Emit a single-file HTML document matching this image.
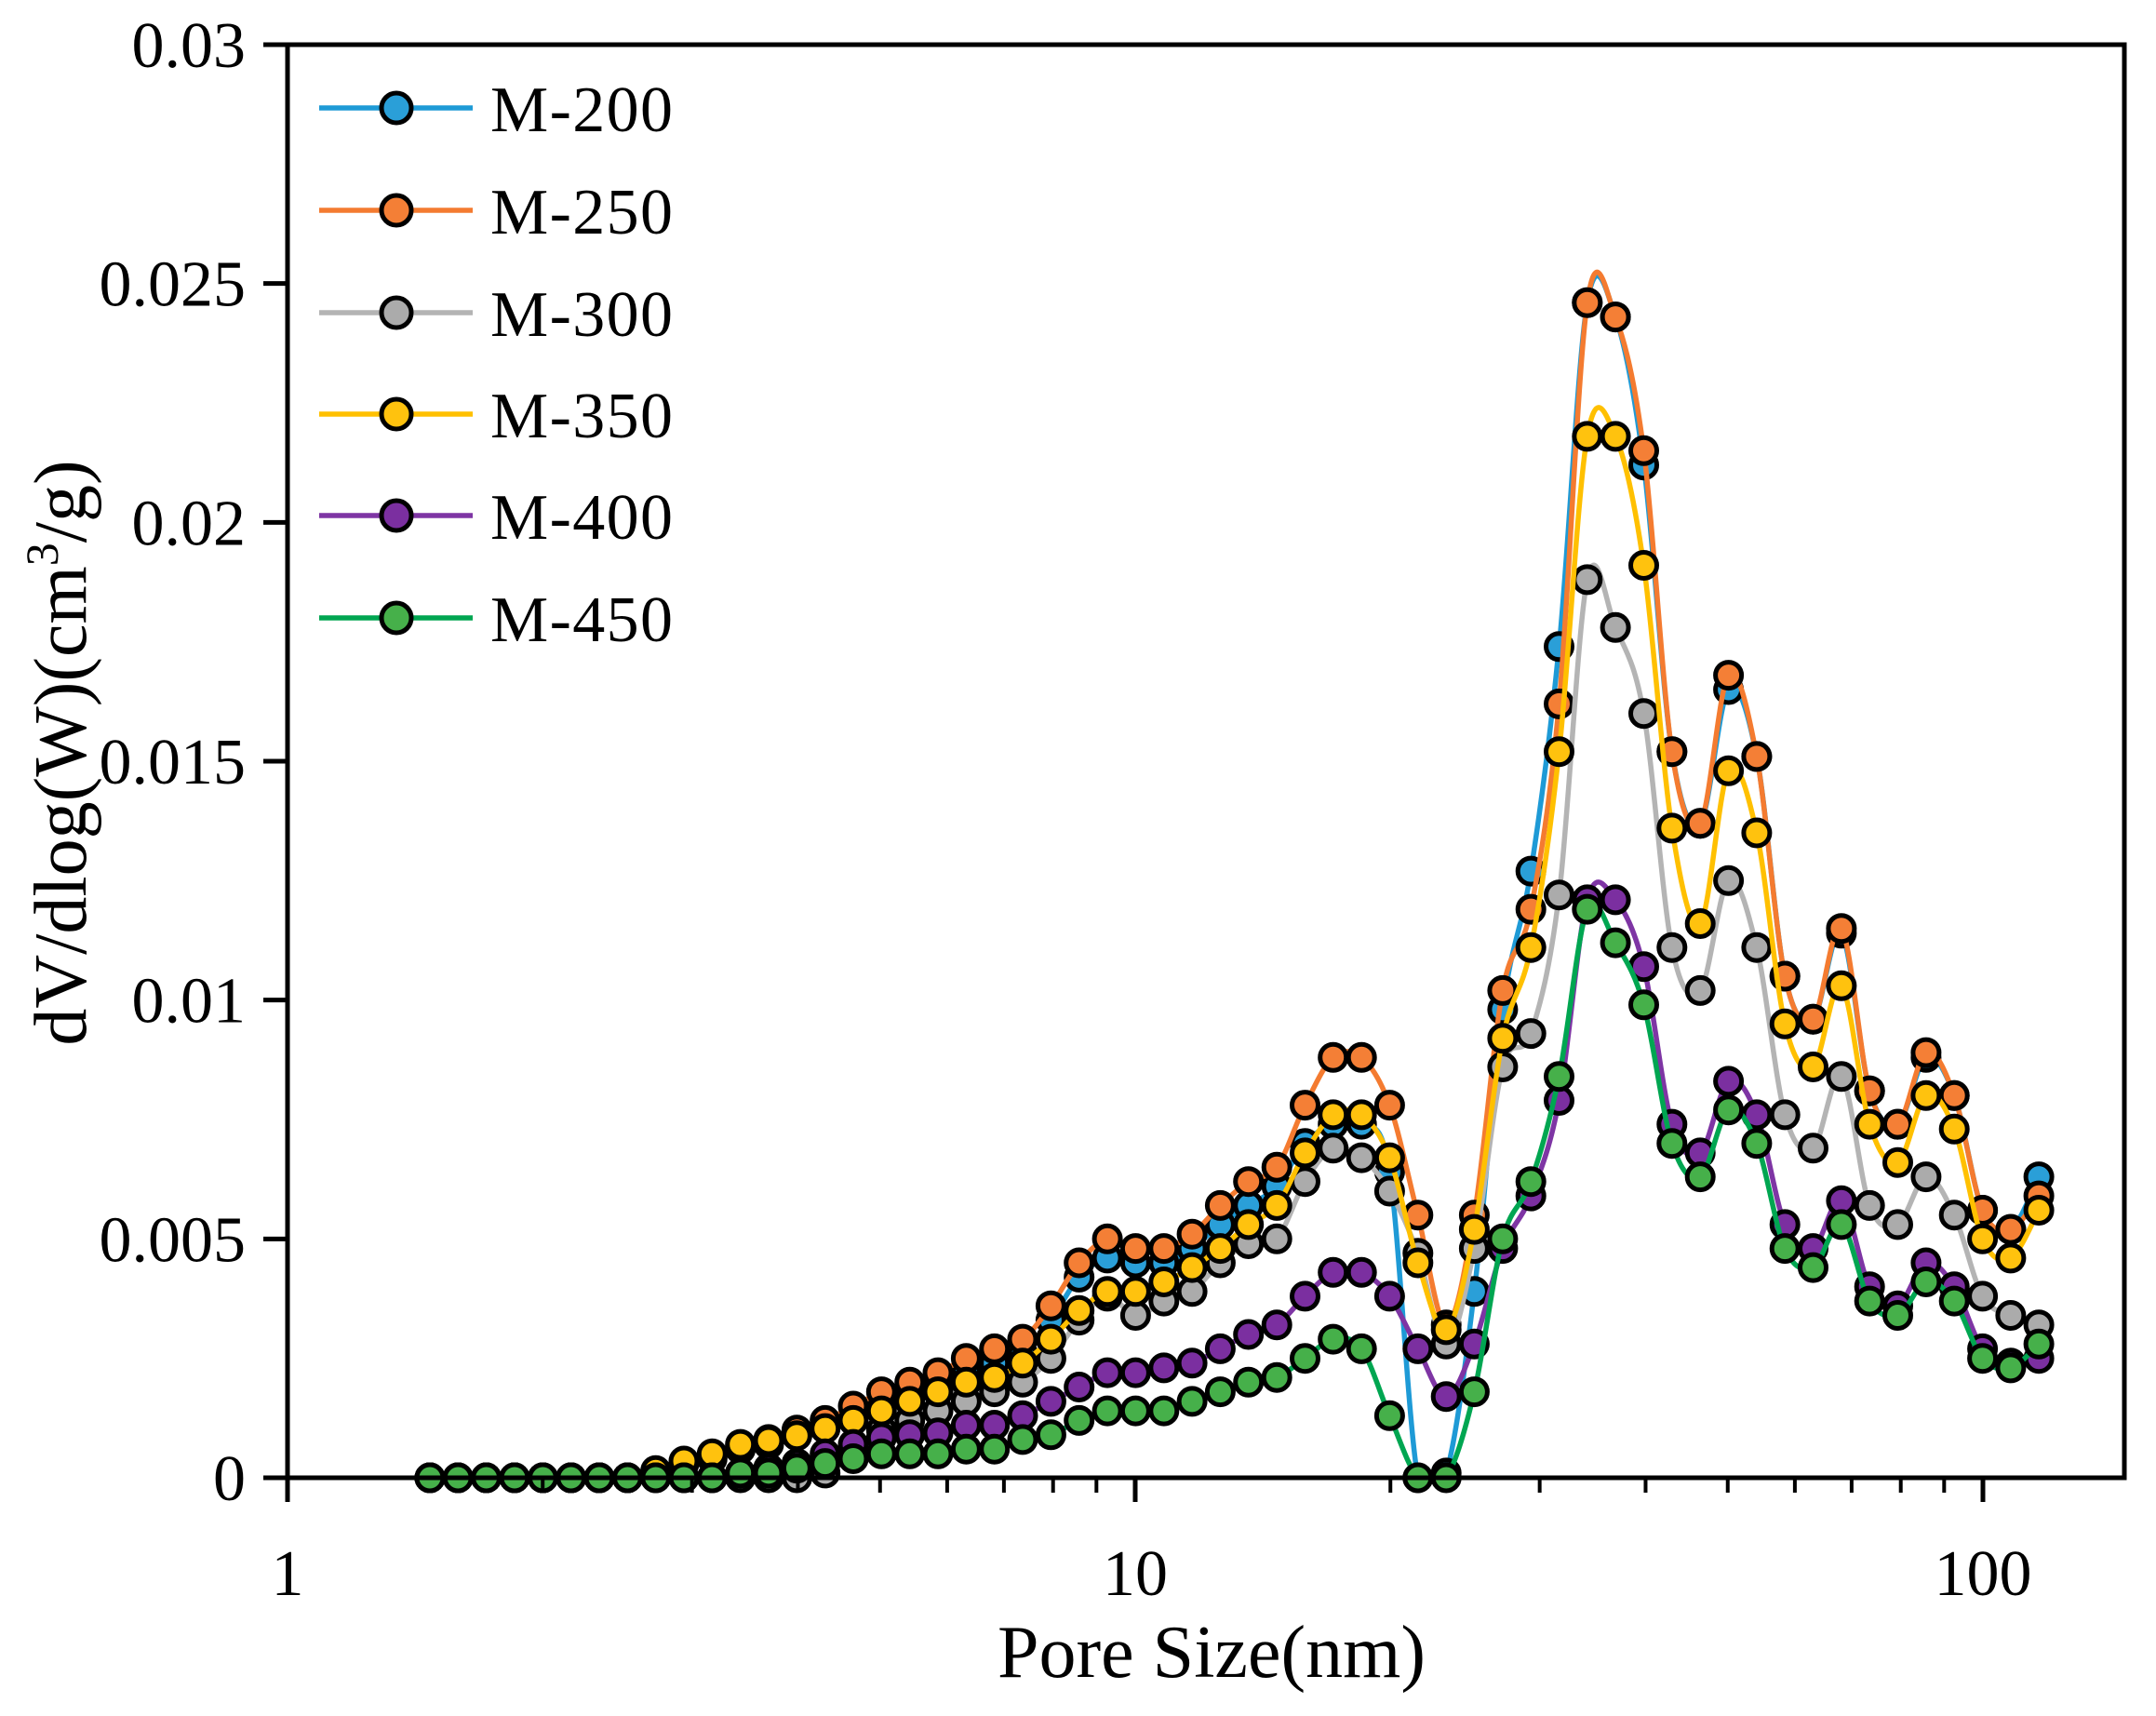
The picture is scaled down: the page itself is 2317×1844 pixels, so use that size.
<!DOCTYPE html>
<html><head><meta charset="utf-8"><style>
html,body{margin:0;padding:0;background:#fff;}
svg{display:block;}
text{font-family:"Liberation Serif","Times New Roman",serif;fill:#000;}
</style></head>
<body>
<svg id="chart" width="2317" height="1844" viewBox="0 0 2317 1844" xmlns="http://www.w3.org/2000/svg">
<rect x="0" y="0" width="2317" height="1844" fill="#fff"/>
<g id="plot"></g>
<g id="axes"></g>
<g id="legend"></g>
<text x="1302" y="1802" font-size="80" text-anchor="middle" textLength="460">Pore Size(nm)</text>
<text transform="translate(92,809) rotate(-90)" font-size="80" text-anchor="middle">dV/dlog(W)(cm<tspan font-size="50" dy="-30">3</tspan><tspan dy="30">/g)</tspan></text>
</svg>
<script>
const poreSizes = [1.472,1.589,1.716,1.853,2.001,2.160,2.332,2.518,2.719,2.935,3.169,3.422,3.694,3.989,4.307,4.650,5.020,5.420,5.852,6.319,6.822,7.366,7.953,8.587,9.271,10.01,10.81,11.67,12.60,13.60,14.69,15.86,17.12,18.49,19.96,21.55,23.27,25.12,27.13,29.29,31.62,34.14,36.86,39.80,42.97,46.40,50.10,54.09,58.40,63.05,68.08,73.50,79.36,85.69,92.52,99.89,107.85,116.4];
const seriesNames = ["M-200","M-250","M-300","M-350","M-400","M-450"];
const m200 = [0,0,0,0,0,0,0,0,0.0001,0.0003,0.0004,0.0006,0.0007,0.0009,0.0011,0.0013,0.0016,0.0018,0.0020,0.0022,0.0024,0.0026,0.0033,0.0042,0.0046,0.0045,0.0045,0.0048,0.0053,0.0057,0.0061,0.0070,0.0074,0.0074,0.0064,0.0000,0.0001,0.0039,0.0098,0.0127,0.0174,0.0246,0.0243,0.0212,0.0152,0.0137,0.0165,0.0151,0.0105,0.0096,0.0114,0.0081,0.0074,0.0088,0.0080,0.0056,0.0052,0.0063];
const m250 = [0,0,0,0,0,0,0,0,0.0001,0.0003,0.00045,0.00065,0.0008,0.001,0.0012,0.0015,0.0018,0.0020,0.0022,0.0025,0.0027,0.0029,0.0036,0.0045,0.0050,0.0048,0.0048,0.0051,0.0057,0.0062,0.0065,0.0078,0.0088,0.0088,0.0078,0.0055,0.0032,0.0055,0.0102,0.0119,0.0162,0.0246,0.0243,0.0215,0.0152,0.0137,0.0168,0.0151,0.0105,0.0096,0.0115,0.0081,0.0074,0.0089,0.0080,0.0056,0.0052,0.0059];
const m300 = [0,0,0,0,0,0,0,0,0,0,0,0,0,0,0.0001,0.0006,0.0010,0.0012,0.0014,0.0016,0.0018,0.0020,0.0025,0.0033,0.0038,0.0034,0.0037,0.0039,0.0045,0.0049,0.0050,0.0062,0.0069,0.0067,0.0060,0.0047,0.0028,0.0048,0.0086,0.0093,0.0122,0.0188,0.0178,0.0160,0.0111,0.0102,0.0125,0.0111,0.0076,0.0069,0.0084,0.0057,0.0053,0.0063,0.0055,0.0038,0.0034,0.0032];
const m350 = [0,0,0,0,0,0,0,0,0.00015,0.00035,0.0005,0.0007,0.00078,0.00088,0.00103,0.0012,0.0014,0.0016,0.0018,0.0020,0.0021,0.0024,0.0029,0.0035,0.0039,0.0039,0.0041,0.0044,0.0048,0.0053,0.0057,0.0068,0.0076,0.0076,0.0067,0.0045,0.0031,0.0052,0.0092,0.0111,0.0152,0.0218,0.0218,0.0191,0.0136,0.0116,0.0148,0.0135,0.0095,0.0086,0.0103,0.0074,0.0066,0.0080,0.0073,0.0050,0.0046,0.0056];
const m400 = [0,0,0,0,0,0,0,0,0,0,0,0.0001,0.0002,0.0003,0.0005,0.0007,0.00084,0.0009,0.00094,0.0011,0.0011,0.0013,0.0016,0.0019,0.0022,0.0022,0.0023,0.0024,0.0027,0.0030,0.0032,0.0038,0.0043,0.0043,0.0038,0.0027,0.0017,0.0028,0.0048,0.0059,0.0079,0.0121,0.0121,0.0107,0.0074,0.0068,0.0083,0.0076,0.0053,0.0048,0.0058,0.0040,0.0036,0.0045,0.0040,0.0027,0.0024,0.0025];
const m450 = [0,0,0,0,0,0,0,0,0,0,0,0.0001,0.0001,0.0002,0.0003,0.0004,0.0005,0.0005,0.0005,0.0006,0.0006,0.0008,0.0009,0.0012,0.0014,0.0014,0.0014,0.0016,0.0018,0.0020,0.0021,0.0025,0.0029,0.0027,0.0013,0,0,0.0018,0.0050,0.0062,0.0084,0.0119,0.0112,0.0099,0.0070,0.0063,0.0077,0.0070,0.0048,0.0044,0.0053,0.0037,0.0034,0.0041,0.0037,0.0025,0.0023,0.0028];
const yTickValues = [0,0.005,0.01,0.015,0.02,0.025,0.03];
const yTickLabels = ["0","0.005","0.01","0.015","0.02","0.025","0.03"];
const xMajorTicks = [1,10,100];
const xMajorLabels = ["1","10","100"];
const xMinorTicks = [2,3,4,5,6,7,8,9,20,30,40,50,60,70,80,90];

const NS = "http://www.w3.org/2000/svg";
const X0 = 309, DEC = 911, Y0 = 1588, YH = 1540, XR = 2283, YT = 48;
function xScale(v){ return X0 + DEC*Math.log10(v); }
function yScale(v){ return Y0 - v/0.03*YH; }
function mk(tag, attrs, parent){ const e=document.createElementNS(NS,tag); for(const k in attrs) e.setAttribute(k,attrs[k]); parent.appendChild(e); return e; }

const seriesData = [m200,m250,m300,m350,m400,m450];
const lineColors = ["#1e9ad6","#f47b30","#b4b4b4","#ffc000","#7e35a4","#00a651"];
const fillColors = ["#2a9fd8","#f47f36","#ababab","#ffc20e","#7b2fa0","#46b04a"];

function smoothPath(pts){
  let d = "M"+pts[0][0].toFixed(1)+","+pts[0][1].toFixed(1);
  for(let i=0;i<pts.length-1;i++){
    const p0=pts[Math.max(0,i-1)], p1=pts[i], p2=pts[i+1], p3=pts[Math.min(pts.length-1,i+2)];
    const c1x=p1[0]+(p2[0]-p0[0])/6, c1y=Math.min(Y0, p1[1]+(p2[1]-p0[1])/6);
    const c2x=p2[0]-(p3[0]-p1[0])/6, c2y=Math.min(Y0, p2[1]-(p3[1]-p1[1])/6);
    d += " C"+c1x.toFixed(1)+","+c1y.toFixed(1)+" "+c2x.toFixed(1)+","+c2y.toFixed(1)+" "+p2[0].toFixed(1)+","+p2[1].toFixed(1);
  }
  return d;
}

const plot = document.getElementById("plot");
seriesData.forEach((vals, s) => {
  const g = mk("g", {}, plot);
  
  
  const pts = vals.map((v,i)=>[xScale(poreSizes[i]), yScale(v)]);
  const path = mk("path", {d: smoothPath(pts), fill:"none", stroke: lineColors[s], "stroke-width": 5.5}, g);
  
  
  pts.forEach((p,i)=>{
    const c = mk("circle", {cx:p[0].toFixed(1), cy:p[1].toFixed(1), r:14, fill: fillColors[s], stroke:"#000", "stroke-width":5}, g);
    
    
  });
});

const axes = document.getElementById("axes");
const frame = mk("rect", {x:X0, y:YT, width:XR-X0, height:Y0-YT, fill:"none", stroke:"#000", "stroke-width":5}, axes);


yTickValues.forEach((v,i)=>{
  const y = yScale(v);
  const t = mk("line", {x1:X0-26, y1:y, x2:X0, y2:y, stroke:"#000", "stroke-width":5}, axes);
  
  
  const l = mk("text", {x:264, y:y+24, "font-size":70, "text-anchor":"end"}, axes);
  l.textContent = yTickLabels[i];
  
  
});
xMajorTicks.forEach((v,i)=>{
  const x = xScale(v);
  const t = mk("line", {x1:x, y1:Y0, x2:x, y2:Y0+26, stroke:"#000", "stroke-width":5}, axes);
  
  
  const l = mk("text", {x:x, y:1714, "font-size":70, "text-anchor":"middle"}, axes);
  l.textContent = xMajorLabels[i];
  
  
});
xMinorTicks.forEach(v=>{
  const x = xScale(v);
  const t = mk("line", {x1:x, y1:Y0, x2:x, y2:Y0+16, stroke:"#000", "stroke-width":4}, axes);
  
  
});

const legend = document.getElementById("legend");
const legendY = [116,226,336,445,554,664];
seriesNames.forEach((n,s)=>{
  const g = mk("g", {}, legend);
  
  
  const y = legendY[s];
  mk("line", {x1:343, y1:y, x2:508, y2:y, stroke:lineColors[s], "stroke-width":5.5}, g);
  mk("circle", {cx:426, cy:y, r:16, fill:fillColors[s], stroke:"#000", "stroke-width":5}, g);
  const t = mk("text", {x:527, y:y+25, "font-size":70, textLength:196}, g);
  t.textContent = n;
});
</script>
</body></html>
